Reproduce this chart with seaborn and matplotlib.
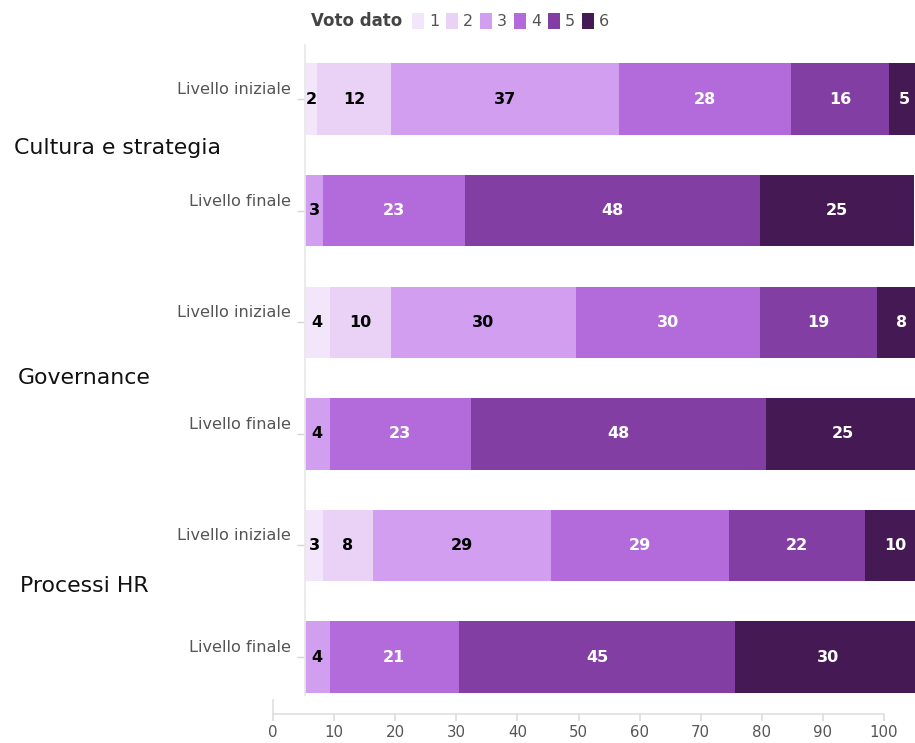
import matplotlib
matplotlib.use("Agg")
import matplotlib.pyplot as plt
import seaborn as sns
import pandas as pd
from matplotlib.patches import Patch
from matplotlib.transforms import ScaledTranslation

# ---- data ----
gruppi = ["Cultura e strategia", "Governance", "Processi HR"]
livelli = ["Livello iniziale", "Livello finale"]
voti = ["1", "2", "3", "4", "5", "6"]

# percentage of answers per vote (1..6), 0 where the vote is absent
cultura_iniziale = [2, 12, 37, 28, 16, 5]
cultura_finale = [0, 0, 3, 23, 48, 25]
governance_iniziale = [4, 10, 30, 30, 19, 8]
governance_finale = [0, 0, 4, 23, 48, 25]
processi_iniziale = [3, 8, 29, 29, 22, 10]
processi_finale = [0, 0, 4, 21, 45, 30]

colori = ["#f3e6fb", "#e9d2f6", "#d19ef0", "#b36bdc", "#833ea4", "#451953"]
colori_testo = ["black", "black", "black", "white", "white", "white"]

righe = [
    cultura_iniziale, cultura_finale,
    governance_iniziale, governance_finale,
    processi_iniziale, processi_finale,
]
chiavi = [f"{g} | {l}" for g in gruppi for l in livelli]

df = pd.DataFrame(righe, columns=voti)
df["riga"] = chiavi

# ---- figure ----
sns.set_theme(style="white")
plt.rcParams["font.family"] = ["DejaVu Sans"]

W, H = 915, 743
fig = plt.figure(figsize=(W / 100, H / 100), dpi=100)
ax = fig.add_axes([305 / W, 1 - 695 / H, (W - 305) / W, (695 - 45) / H])

left = pd.Series(0.0, index=df.index)
for i, v in enumerate(voti):
    sns.barplot(data=df, x=v, y="riga", order=chiavi, orient="h",
                color=colori[i], left=left.values, width=0.64,
                saturation=1, errorbar=None, linewidth=0, ax=ax)
    for j, val in enumerate(df[v]):
        if val > 0:
            ax.text(left[j] + val / 2, j, str(val), ha="center", va="center",
                    color=colori_testo[i], fontsize=11.5, fontweight="bold")
    left = left + df[v]

ax.set_xlim(0, 99.2)
ax.set_ylim(5.34, -0.484)
ax.set_xlabel("")
ax.set_ylabel("")
ax.set_xticks([])
ax.set_yticks(range(len(chiavi)))
ax.set_yticklabels([l for g in gruppi for l in livelli])
ax.tick_params(axis="y", left=True, length=6, width=1, color="#d6d6d6",
               labelcolor="#555555", labelsize=11.6, pad=4)
for lab in ax.get_yticklabels():
    lab.set_transform(lab.get_transform() +
                      ScaledTranslation(0, 8 / 72, fig.dpi_scale_trans))
for s in ["top", "right", "bottom"]:
    ax.spines[s].set_visible(False)
ax.spines["left"].set_color("#e8e8e8")
ax.set_facecolor("none")

# group labels
for g, (gx, gy) in zip(gruppi, [(14, 148), (18, 378), (20, 586)]):
    fig.text(gx / W, 1 - gy / H, g, ha="left", va="center",
             fontsize=15.8, color="#111111")

# bottom value axis
ax2 = fig.add_axes([273 / W, 1 - 714 / H, (884 - 273) / W, 14 / H])
ax2.set_xlim(0, 100)
ax2.set_xticks(range(0, 101, 10))
ax2.set_yticks([])
ax2.tick_params(axis="x", bottom=True, length=5, color="#dddddd",
                labelcolor="#555555", labelsize=10.8, pad=3)
for s in ["top", "right"]:
    ax2.spines[s].set_visible(False)
ax2.spines["bottom"].set_color("#e0e0e0")
ax2.spines["left"].set_color("#e0e0e0")
ax2.set_facecolor("none")

# legend
fig.text(402 / W, 1 - 21 / H, "Voto dato", ha="right", va="center",
         fontsize=12, fontweight="bold", color="#444444")
handles = [Patch(facecolor=c, edgecolor="none") for c in colori]
fig.legend(handles, voti, loc="center left", bbox_to_anchor=(412 / W, 1 - 21 / H),
           ncol=6, frameon=False, handlelength=0.75, handleheight=1.15,
           handletextpad=0.3, columnspacing=0.45, fontsize=11.5,
           borderpad=0, borderaxespad=0, labelcolor="#555555")

fig.savefig("out.png", dpi=100)
